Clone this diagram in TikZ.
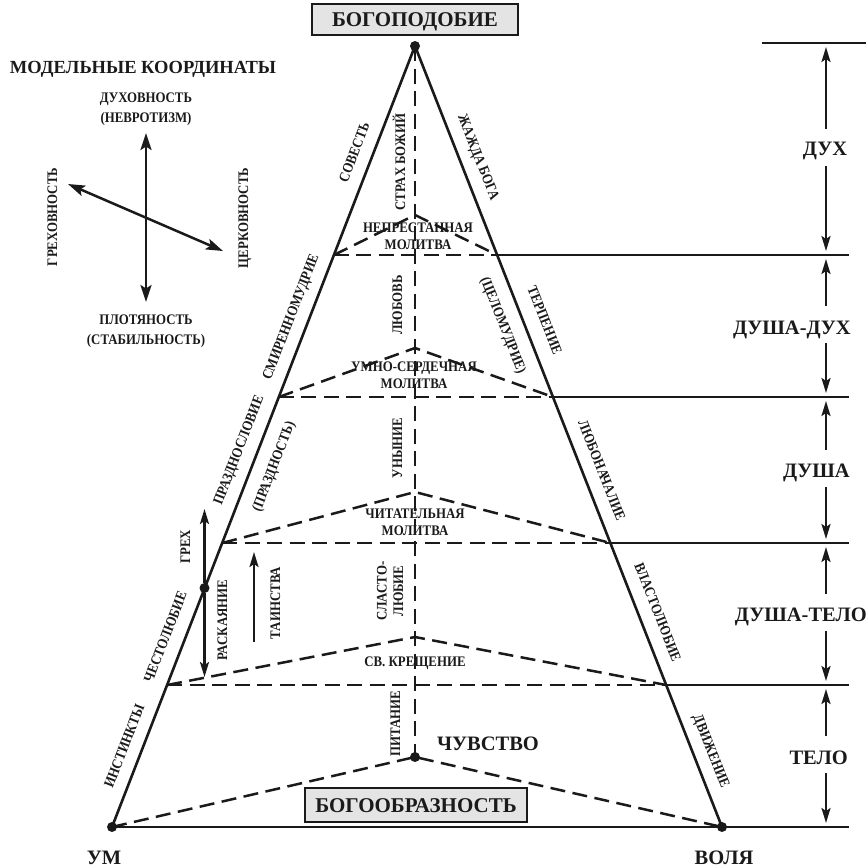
\documentclass[tikz,border=0pt]{standalone}
\usepackage{fontspec}
\setmainfont{Liberation Serif}
\newfontfamily\condfont[FakeStretch=0.88]{Liberation Serif}
\usetikzlibrary{arrows.meta}
\definecolor{ink}{HTML}{1A1A1A}
\definecolor{boxfill}{HTML}{E4E4E4}
\begin{document}
\begin{tikzpicture}[x=1pt,y=-1pt,
  every node/.style={text=ink,inner sep=0pt},
  solidln/.style={draw=ink,line width=2.6pt},
  lvlln/.style={draw=ink,line width=2.3pt},
  dsh/.style={draw=ink,line width=2.5pt,dash pattern=on 15pt off 7.5pt},
  arr/.style={draw=ink,line width=2.2pt,-{Stealth[length=15pt,width=9pt,inset=3pt]}},
  darr/.style={draw=ink,line width=2.5pt,{Stealth[length=17pt,width=11pt,inset=3.5pt]}-{Stealth[length=17pt,width=11pt,inset=3.5pt]}},
  dotn/.style={circle,fill=ink,minimum size=10pt},
  lbl/.style={font=\condfont\fontsize{14.6}{16}\selectfont\bfseries,text height=10pt,text depth=0pt},
  roof/.style={font=\condfont\fontsize{14.6}{16.5}\selectfont\bfseries,align=center},
  big/.style={font=\fontsize{20.5}{24}\selectfont\bfseries,text height=14pt,text depth=0pt},
  ttl/.style={draw=ink,line width=2.6pt,fill=boxfill,font=\fontsize{21}{24}\selectfont\bfseries,text height=14pt,text depth=0pt},
  ledge/.style={lbl,rotate=68.8},
  redge/.style={lbl,rotate=-68.5},
  vert/.style={lbl,rotate=90}
]
\useasboundingbox (0,0) rectangle (868,868);

% main points
\coordinate (A) at (415,46);
\coordinate (UM) at (112,827);
\coordinate (VO) at (722,827);
\coordinate (CH) at (415,757);
\coordinate (E5) at (849,827);
% levels
\coordinate (L1) at (333.9,255); \coordinate (R1) at (497.2,255); \coordinate (P1) at (415,215); \coordinate (E1) at (849,255);
\coordinate (L2) at (278.8,397); \coordinate (R2) at (553.0,397); \coordinate (P2) at (415,348); \coordinate (E2) at (849,397);
\coordinate (L3) at (222.2,543); \coordinate (R3) at (610.4,543); \coordinate (P3) at (415,492); \coordinate (E3) at (849,543);
\coordinate (L4) at (167.1,685); \coordinate (R4) at (666.2,685); \coordinate (P4) at (415,637); \coordinate (E4) at (849,685);
\coordinate (T0a) at (762,43); \coordinate (T0b) at (866,43);

% dashed structure
\draw[dsh] (A) -- (CH);
\foreach \i in {1,2,3,4}{
  \draw[dsh] (L\i) -- (R\i);
  \draw[dsh] (L\i) -- (P\i) -- (R\i);
}
\draw[dsh] (UM) -- (CH) -- (VO);

% solid lines
\draw[solidln] (UM) -- (A) -- (VO);
\draw[lvlln] (UM) -- (E5);
\foreach \i in {1,2,3,4}{ \draw[lvlln] (R\i) -- (E\i); }
\draw[lvlln] (T0a) -- (T0b);

% dots
\node[dotn] (dA) at (A) {};
\node[dotn] (dUM) at (UM) {};
\node[dotn] (dVO) at (VO) {};
\node[dotn] (dCH) at (CH) {};

% title boxes
\node[ttl,minimum width=206pt,minimum height=31pt] (bogopod) at (415,19.5) {БОГОПОДОБИЕ};
\node[ttl,minimum width=222pt,minimum height=34pt] (bogoobr) at (416,805) {БОГООБРАЗНОСТЬ};

% bottom labels
\node[big] (um) at (104,857) {УМ};
\node[big] (volya) at (724,857) {ВОЛЯ};
\node[big] (chuv) at (488,743) {ЧУВСТВО};

% left edge labels
\node[ledge] (sovest) at (354,152) {СОВЕСТЬ};
\node[ledge] (smir) at (290,317) {СМИРЕННОМУДРИЕ};
\node[ledge] (prazdsl) at (238,450) {ПРАЗДНОСЛОВИЕ};
\node[ledge] (prazdn) at (273,466) {(ПРАЗДНОСТЬ)};
\node[ledge] (chest) at (165,637) {ЧЕСТОЛЮБИЕ};
\node[ledge] (inst) at (124,746) {ИНСТИНКТЫ};

% right edge labels
\node[redge] (zhazh) at (479,157) {ЖАЖДА БОГА};
\node[redge] (terp) at (545,320) {ТЕРПЕНИЕ};
\node[redge] (tselom) at (504,325) {(ЦЕЛОМУДРИЕ)};
\node[redge] (lyubon) at (602,470) {ЛЮБОНАЧАЛИЕ};
\node[redge] (vlast) at (658,612) {ВЛАСТОЛЮБИЕ};
\node[redge] (dvizh) at (712,751) {ДВИЖЕНИЕ};

% centre vertical labels
\node[vert] (strah) at (400,162) {СТРАХ БОЖИЙ};
\node[vert] (lyubov) at (397,305) {ЛЮБОВЬ};
\node[vert] (unyn) at (397,448) {УНЫНИЕ};
\node[roof,rotate=90] (slast) at (390,591) {СЛАСТО-\\ЛЮБИЕ};
\node[vert] (pit) at (395,724) {ПИТАНИЕ};

% roof labels
\node[roof] (r1) at (418,236) {НЕПРЕСТАННАЯ\\МОЛИТВА};
\node[roof] (r2) at (414,375) {УМНО-СЕРДЕЧНАЯ\\МОЛИТВА};
\node[roof] (r3) at (415,522) {ЧИТАТЕЛЬНАЯ\\МОЛИТВА};
\node[roof] (r4) at (415,663) {СВ. КРЕЩЕНИЕ};

% sin / repentance arrows
\node[dotn] (gdot) at (204.5,588) {};
\coordinate (gtop) at (204.5,509);
\coordinate (gbot) at (204.5,677);
\draw[arr] (gdot) -- (gtop);
\draw[arr] (gdot) -- (gbot);
\node[vert] (greh) at (185,547) {ГРЕХ};
\node[vert] (rask) at (222,620) {РАСКАЯНИЕ};
\coordinate (tbot) at (254,642);
\coordinate (ttop) at (254,552);
\draw[arr] (tbot) -- (ttop);
\node[vert] (tain) at (275,603) {ТАИНСТВА};

% right bands
\node[big] (bdux) at (825,148) {ДУХ};
\node[big,anchor=east] (bdd) at (851,327) {ДУША-ДУХ};
\node[big,anchor=east] (bdusha) at (850,470) {ДУША};
\node[big,anchor=east] (bdt) at (867,614) {ДУША-ТЕЛО};
\node[big,anchor=east] (btelo) at (848,757) {ТЕЛО};
\foreach \yt/\yb/\n in {43/255/a,255/397/b,397/543/c,543/685/d,685/827/e}{
  \pgfmathsetmacro{\ym}{(\yt+\yb)/2}
  \coordinate (u\n) at (826,\ym-20);
  \coordinate (ut\n) at (826,\yt+4);
  \coordinate (d\n) at (826,\ym+17);
  \coordinate (dt\n) at (826,\yb-4);
  \draw[arr] (u\n) -- (ut\n);
  \draw[arr] (d\n) -- (dt\n);
}

% legend
\node[font=\fontsize{18.5}{22}\selectfont\bfseries,text height=13pt,text depth=0pt] (leg) at (143,67) {МОДЕЛЬНЫЕ КООРДИНАТЫ};
\node[font=\condfont\fontsize{14.6}{20}\selectfont\bfseries,align=center] (dxn) at (146,109) {ДУХОВНОСТЬ\\(НЕВРОТИЗМ)};
\node[font=\condfont\fontsize{14.6}{20}\selectfont\bfseries,align=center] (plt) at (146,331) {ПЛОТЯНОСТЬ\\(СТАБИЛЬНОСТЬ)};
\node[vert] (grehov) at (52,217) {ГРЕХОВНОСТЬ};
\node[vert] (cerk) at (243,218) {ЦЕРКОВНОСТЬ};
\coordinate (vtop) at (146,133);
\coordinate (vbot) at (146,302);
\coordinate (dl) at (68,184);
\coordinate (dr) at (223,251);
\draw[darr] (vtop) -- (vbot);
\draw[darr] (dl) -- (dr);
\end{tikzpicture}
\end{document}
